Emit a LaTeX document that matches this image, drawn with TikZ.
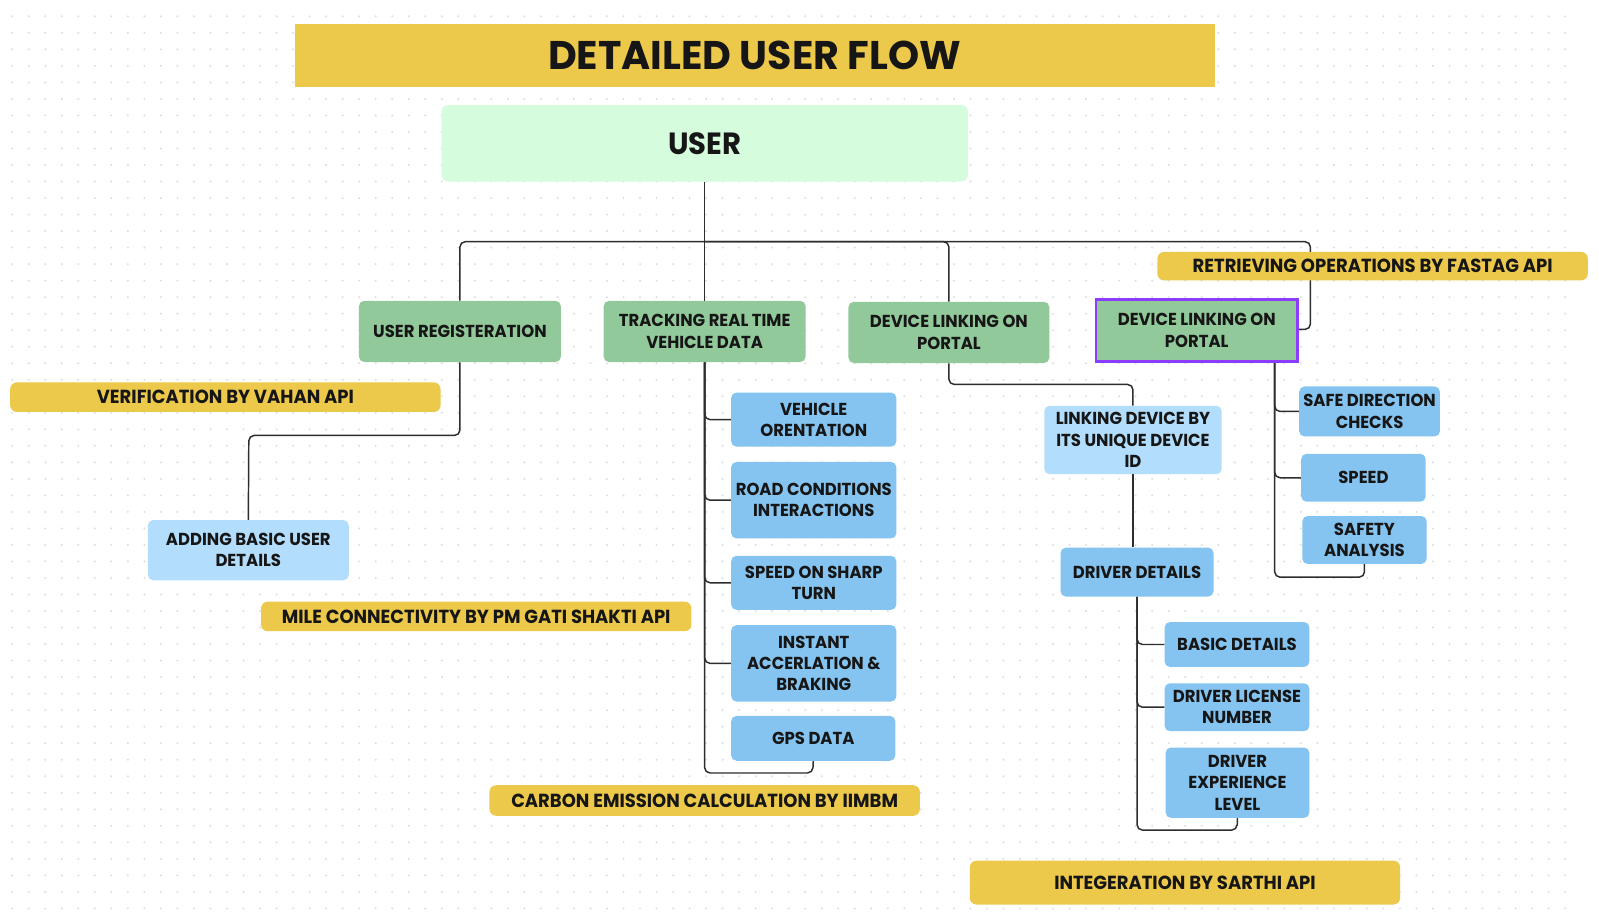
\documentclass[tikz,border=0pt]{standalone}
\usepackage{fontspec}
\setmainfont{Poppins}[FakeStretch=0.95]
\newfontfamily\titlefont{Poppins}[FakeStretch=0.99]
\usetikzlibrary{calc}
\definecolor{ybar}{RGB}{236,201,75}
\definecolor{ugreen}{RGB}{213,252,221}
\definecolor{mgreen}{RGB}{146,201,154}
\definecolor{lblue}{RGB}{179,221,252}
\definecolor{mblue}{RGB}{133,196,240}
\definecolor{purp}{RGB}{139,61,255}
\definecolor{ink}{RGB}{22,22,22}
\definecolor{wire}{RGB}{45,45,45}
\definecolor{dotc}{RGB}{222,222,222}
\tikzset{
  base/.style={inner sep=0pt, align=center, text=ink, font=\bfseries\fontsize{13}{16}\selectfont},
  greenbox/.style={base, fill=mgreen, rounded corners=4pt},
  purpbox/.style={base, fill=mgreen},
  lbluebox/.style={base, fill=lblue, rounded corners=4pt},
  bluebox/.style={base, fill=mblue, rounded corners=4pt},
  ylabel/.style={base, fill=ybar, rounded corners=5pt, font=\bfseries\fontsize{14.2}{17}\selectfont},
  conn/.style={draw=wire, line width=1.1pt, rounded corners=4pt},
}
\newcommand\bx[7]{\node[#6, minimum width={(#4-#2)*0.765pt}, minimum height={(#5-#3)*0.765pt}] (#1) at ({(#2+#4)/2},{(#3+#5)/2}) {#7};}
\begin{document}
\begin{tikzpicture}[x=0.765pt,y=-0.765pt]
\useasboundingbox (0,0) rectangle (1568,901);
\fill[white] (0,0) rectangle (1568,901);
\foreach \j in {0,...,54} {
  \fill[dotc] foreach \i in {0,...,94} {(12+\i*16.2,16+\j*16.2) circle[radius=0.85pt]};
}
% title and root
\node[fill=ybar, minimum width={902*0.765pt}, minimum height={61*0.765pt}, inner sep=0pt, text=ink, font=\titlefont\bfseries\fontsize{30}{36}\selectfont] (title) at (740,54.5) {DETAILED USER FLOW};
\node[fill=ugreen, rounded corners=5pt, minimum width={516*0.765pt}, minimum height={75*0.765pt}, inner sep=0pt, text=ink, font=\bfseries\fontsize{23}{27}\selectfont] (user) at (691,140.5) {USER};
% level 1
\bx{ureg}{352}{295}{550}{355}{greenbox}{USER REGISTERATION}
\bx{track}{592}{295}{790}{355}{greenbox}{TRACKING REAL TIME\\VEHICLE DATA}
\bx{dlone}{832}{296}{1029}{356}{greenbox}{DEVICE LINKING ON\\PORTAL}
\bx{dltwo}{1075}{294}{1272}{354}{purpbox}{DEVICE LINKING ON\\PORTAL}
% children
\bx{addu}{145}{510}{342}{569}{lbluebox}{ADDING BASIC USER\\DETAILS}
\bx{veh}{717}{385}{879}{438}{bluebox}{VEHICLE\\ORENTATION}
\bx{road}{717}{453}{879}{528}{bluebox}{ROAD CONDITIONS\\INTERACTIONS}
\bx{sharp}{717}{545}{879}{598}{bluebox}{SPEED ON SHARP\\TURN}
\bx{inst}{717}{613}{879}{688}{bluebox}{INSTANT\\ACCERLATION \&\\BRAKING}
\bx{gps}{717}{702}{878}{746}{bluebox}{GPS DATA}
\bx{link}{1024}{398}{1198}{465}{lbluebox}{LINKING DEVICE BY\\ITS UNIQUE DEVICE\\ID}
\bx{drv}{1040}{537}{1190}{585}{bluebox}{DRIVER DETAILS}
\bx{basic}{1142}{610}{1284}{654}{bluebox}{BASIC DETAILS}
\bx{lic}{1142}{670}{1284}{717}{bluebox}{DRIVER LICENSE\\NUMBER}
\bx{exp}{1143}{733}{1284}{802}{bluebox}{DRIVER\\EXPERIENCE\\LEVEL}
\bx{safe}{1274}{379}{1412}{428}{bluebox}{SAFE DIRECTION\\CHECKS}
\bx{spd}{1276}{445}{1398}{492}{bluebox}{SPEED}
\bx{safety}{1277}{506}{1399}{553}{bluebox}{SAFETY\\ANALYSIS}
% connector helper coordinates
\coordinate (hub) at (691,237);
\coordinate (rbend) at (1285,323);
\coordinate (regbend) at (244,427);
\coordinate (dlbend) at (1111,377);
\coordinate (gpsend) at (797,758);
\coordinate (expend) at (1213,814);
\coordinate (safeend) at (1338,566);
% connectors
\draw[conn] (user.south) -- (hub);
\draw[conn] (hub) -| (ureg.north);
\draw[conn] (hub) -- (track.north);
\draw[conn] (hub) -| (dlone.north);
\draw[conn] (hub) -| (rbend) -- (rbend -| dltwo.east);
\draw[conn] (ureg.south) |- (regbend) -- (addu.north);
\draw[conn] (track.south) |- (veh.west);
\draw[conn] (track.south) |- (road.west);
\draw[conn] (track.south) |- (sharp.west);
\draw[conn] (track.south) |- (inst.west);
\draw[conn] (track.south) |- (gpsend) -- (gps.south);
\draw[conn] (dlone.south) |- (dlbend) -- (link.north);
\draw[conn] (link.south) -- (link.south |- drv.north);
\draw[conn] (drv.south) |- (basic.west);
\draw[conn] (drv.south) |- (lic.west);
\draw[conn] (drv.south) |- (expend) -- (exp.south);
\draw[conn] ([xshift=58.5pt]dltwo.south) |- (safe.west);
\draw[conn] ([xshift=58.5pt]dltwo.south) |- (spd.west);
\draw[conn] ([xshift=58.5pt]dltwo.south) |- (safeend) -- (safety.south);
% purple frame of the selected box
\draw[purp, line width=2.2pt] (dltwo.north west) rectangle (dltwo.south east);
% yellow labels (drawn on top)
\bx{vahan}{10}{375}{432}{404}{ylabel}{VERIFICATION BY VAHAN API}
\bx{fastag}{1135}{247}{1557}{275}{ylabel}{RETRIEVING OPERATIONS BY FASTAG API}
\bx{gati}{256}{590}{678}{619}{ylabel}{MILE CONNECTIVITY BY PM GATI SHAKTI API}
\bx{carbon}{480}{770}{902}{800}{ylabel}{CARBON EMISSION CALCULATION BY IIMBM}
\bx{sarthi}{951}{844}{1373}{887}{ylabel}{INTEGERATION BY SARTHI API}
\end{tikzpicture}
\end{document}
